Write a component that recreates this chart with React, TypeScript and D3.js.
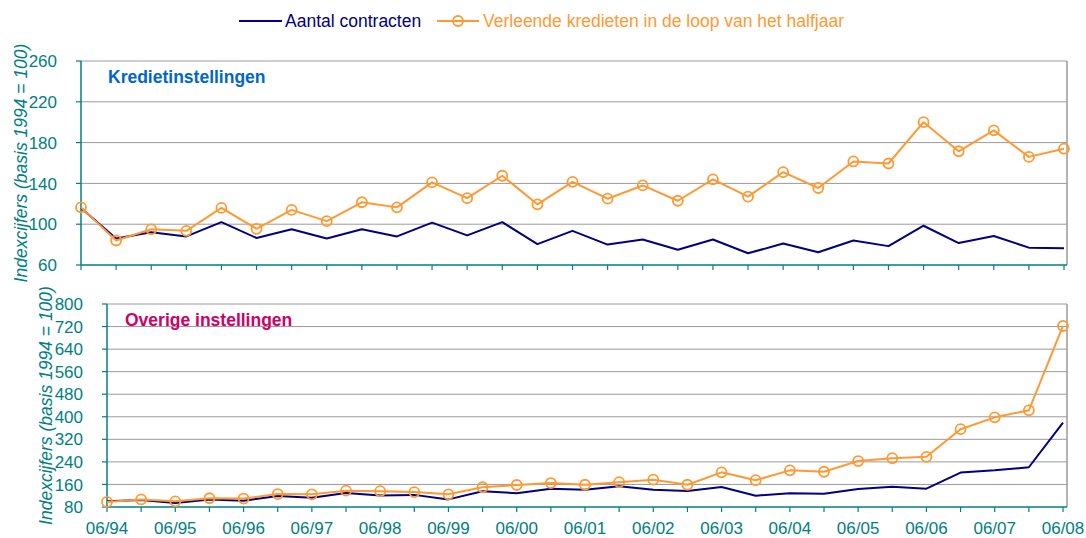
import React from "react";
import * as d3 from "d3";

const periods = [
  "06/94","12/94","06/95","12/95","06/96","12/96","06/97","12/97","06/98","12/98",
  "06/99","12/99","06/00","12/00","06/01","12/01","06/02","12/02","06/03","12/03",
  "06/04","12/04","06/05","12/05","06/06","12/06","06/07","12/07","06/08",
];

const kredietContracten = [116, 86, 92, 88, 102, 86.5, 95, 86, 95, 88, 101.5, 89, 102, 80.5, 93.5, 80, 85, 75, 85, 71.5, 81, 72.5, 84, 78.5, 98.5, 81.5, 88.5, 77, 76.5];
const kredietKredieten = [116.5, 84, 95, 93.5, 116, 95.5, 114, 103, 121.5, 116.5, 141, 125.5, 147.5, 119.5, 141.5, 125, 138, 123, 144, 127, 151, 135.5, 161.5, 159.5, 200, 171.5, 192, 166, 174];

const overigeContracten = [100, 105, 94, 107, 102, 119, 113, 130, 121, 123, 107, 136, 129, 145, 141, 154, 141, 137, 151, 120, 129, 127, 144, 152, 145, 202, 210, 221, 379];
const overigeKredieten = [98, 107, 100, 111, 110, 126, 125, 138, 136, 133, 125, 150, 158, 165, 159, 168, 177, 159, 203, 175, 210, 205, 243, 253, 258, 356, 398, 423, 722];

const topTicks = [60, 100, 140, 180, 220, 260];
const bottomTicks = [80, 160, 240, 320, 400, 480, 560, 640, 720, 800];

const seriesNames = ["Aantal contracten", "Verleende kredieten in de loop van het halfjaar"];
const yTitle = "Indexcijfers (basis 1994 = 100)";

const TEAL = "#008080";
const NAVY = "#000080";
const ORANGE = "#FF9933";
const GRID = "#9a9a9a";
const FONT = "Arial, 'Liberation Sans', sans-serif";

type PanelProps = {
  left: number; right: number; frameRight: number; top: number; bottom: number;
  domain: [number, number]; ticks: number[];
  contracts: number[]; credits: number[];
  label: string; labelColor: string; labelX: number; labelY: number;
  titleX: number; showXLabels: boolean;
};

function Panel(p: PanelProps) {
  const x = d3.scalePoint<string>().domain(periods).range([p.left, p.right]);
  const y = d3.scaleLinear().domain(p.domain).range([p.bottom, p.top]);
  const line = d3.line<number>().x((_, i) => x(periods[i]) as number).y((d) => y(d));
  const midY = (p.top + p.bottom) / 2;
  return (
    <g>
      {p.ticks.filter((t) => t !== p.domain[0]).map((t) => (
        <line key={"g" + t} x1={p.left} x2={p.frameRight} y1={y(t)} y2={y(t)} stroke={GRID} strokeWidth={1} />
      ))}
      <line x1={p.frameRight} x2={p.frameRight} y1={p.top} y2={p.bottom} stroke={GRID} strokeWidth={1.5} />
      <line x1={p.left} x2={p.left} y1={p.top} y2={p.bottom} stroke={TEAL} strokeWidth={1.5} />
      <line x1={p.left} x2={p.frameRight} y1={p.bottom} y2={p.bottom} stroke={TEAL} strokeWidth={1.5} />
      {p.ticks.map((t) => (
        <g key={"t" + t}>
          <line x1={p.left - 5} x2={p.left} y1={y(t)} y2={y(t)} stroke={TEAL} strokeWidth={1.2} />
          <text x={p.left - 24} y={y(t)} dy="0.36em" textAnchor="end" fill={TEAL} fontSize={17} fontFamily={FONT}>{t}</text>
        </g>
      ))}
      {periods.map((c) => (
        <line key={"xt" + c} x1={x(c)} x2={x(c)} y1={p.bottom} y2={p.bottom + 5} stroke={TEAL} strokeWidth={1.2} />
      ))}
      {p.showXLabels && periods.filter((c) => c.startsWith("06")).map((c) => (
        <text key={"xl" + c} x={x(c)} y={534} textAnchor="middle" fill={TEAL} fontSize={17} fontFamily={FONT}>{c}</text>
      ))}
      <text transform={`translate(${p.titleX},${midY}) rotate(-90)`} textAnchor="middle" fill={TEAL} fontSize={17.5} fontStyle="italic" fontFamily={FONT}>{yTitle}</text>
      <text x={p.labelX} y={p.labelY} fill={p.labelColor} fontSize={17.5} fontWeight="bold" fontFamily={FONT}>{p.label}</text>
      <path d={line(p.contracts) || ""} fill="none" stroke={NAVY} strokeWidth={2} strokeLinejoin="round" />
      <path d={line(p.credits) || ""} fill="none" stroke={ORANGE} strokeWidth={2} strokeLinejoin="round" />
      {p.credits.map((v, i) => (
        <circle key={"c" + i} cx={x(periods[i])} cy={y(v)} r={5} fill="none" stroke={ORANGE} strokeWidth={1.8} />
      ))}
    </g>
  );
}

export default function App() {
  return (
    <svg width={1086} height={538} style={{ position: "absolute", left: 0, top: 0, background: "#fff" }}>
      <rect x={0} y={0} width={1086} height={538} fill="#fff" />
      <line x1={239} x2={282} y1={21} y2={21} stroke={NAVY} strokeWidth={2} />
      <text x={285} y={27} fill={NAVY} fontSize={17.5} fontFamily={FONT}>{seriesNames[0]}</text>
      <line x1={437} x2={479} y1={21} y2={21} stroke={ORANGE} strokeWidth={2} />
      <circle cx={458} cy={21} r={5} fill="none" stroke={ORANGE} strokeWidth={1.8} />
      <text x={483} y={27} fill={ORANGE} fontSize={17.5} fontFamily={FONT}>{seriesNames[1]}</text>
      <Panel
        left={81} right={1064} frameRight={1067} top={61} bottom={265}
        domain={[60, 260]} ticks={topTicks}
        contracts={kredietContracten} credits={kredietKredieten}
        label="Kredietinstellingen" labelColor="#0066CC" labelX={108} labelY={83}
        titleX={27} showXLabels={false}
      />
      <Panel
        left={107} right={1063} frameRight={1067} top={304} bottom={507}
        domain={[80, 800]} ticks={bottomTicks}
        contracts={overigeContracten} credits={overigeKredieten}
        label="Overige instellingen" labelColor="#CC0066" labelX={125} labelY={326}
        titleX={52} showXLabels={true}
      />
    </svg>
  );
}
